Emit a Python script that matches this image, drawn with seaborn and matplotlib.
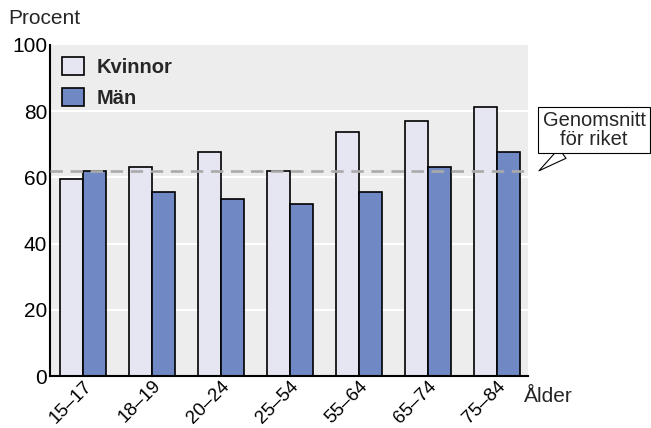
import numpy as np
import pandas as pd
import seaborn as sns
import matplotlib.pyplot as plt
from matplotlib.patches import Patch

# data
age_groups = ["15–17", "18–19", "20–24", "25–54", "55–64", "65–74", "75–84"]
kvinnor = [59.5, 63.1, 67.7, 61.9, 73.7, 77.0, 81.3]
man = [61.9, 55.6, 53.5, 52.0, 55.6, 63.1, 67.7]
riket = 62
series = ["Kvinnor", "Män"]
colors = ["#E6E6F2", "#7089C4"]

df = pd.DataFrame({
    "Ålder": age_groups * 2,
    "Procent": kvinnor + man,
    "Kön": [series[0]] * len(age_groups) + [series[1]] * len(age_groups),
})

sns.set_theme(style="white")
plt.rcParams["font.family"] = ["Liberation Sans", "DejaVu Sans"]

fig = plt.figure(figsize=(6.51, 4.28), dpi=100)
ax = fig.add_axes([50 / 651, 52 / 428, 478 / 651, 331 / 428])

sns.barplot(data=df, x="Ålder", y="Procent", hue="Kön", palette=colors,
            width=0.66, edgecolor="black", linewidth=1.2, saturation=1,
            legend=False, ax=ax)

ax.set_facecolor("#EDEDED")
ax.set_ylim(0, 100)
ax.set_xlim(-0.48, 6.45)
ax.set_yticks([0, 20, 40, 60, 80, 100])
for v in [20, 40, 60, 80]:
    ax.axhline(v, color="white", lw=1.5, zorder=0.5)
ax.axhline(riket, color="#AAAAAA", lw=1.9, ls=(0, (4.7, 2.9)), zorder=3)

for s in ["top", "right"]:
    ax.spines[s].set_visible(False)
ax.spines["left"].set_color("black")
ax.spines["bottom"].set_color("black")
ax.spines["left"].set_linewidth(1.5)
ax.spines["bottom"].set_linewidth(1.5)
ax.tick_params(axis="y", length=0, labelsize=15, colors="black", pad=2)
ax.tick_params(axis="x", length=0, labelsize=13.5, colors="black", pad=1)
plt.setp(ax.get_xticklabels(), rotation=45, ha="right", rotation_mode="anchor")
ax.set_xlabel("")
ax.set_ylabel("")

fig.text(8 / 651, 1 - 18 / 428, "Procent", fontsize=15, va="center", ha="left")
fig.text(524 / 651, 1 - 396 / 428, "Ålder", fontsize=15, va="center", ha="left")

handles = [Patch(facecolor=c, edgecolor="black", linewidth=1.2) for c in colors]
leg = ax.legend(handles, series, loc="upper left", frameon=False,
                prop={"weight": "bold", "size": 14.5}, handlelength=1.1,
                handleheight=1.0, handletextpad=0.6, labelspacing=0.55,
                borderaxespad=0.3, borderpad=0.3)

ax.annotate("Genomsnitt\nför riket", xy=(1.023, riket),
            xycoords=("axes fraction", "data"),
            xytext=(594, 428 - 130), textcoords="figure pixels",
            ha="center", va="center", fontsize=14.5, annotation_clip=False,
            linespacing=1.0,
            bbox=dict(boxstyle="square,pad=0.2", fc="white", ec="black", lw=0.8),
            arrowprops=dict(arrowstyle="wedge,tail_width=0.6", fc="white",
                            ec="black", lw=0.8, shrinkA=0, shrinkB=0))

fig.savefig("out.png", dpi=100)
